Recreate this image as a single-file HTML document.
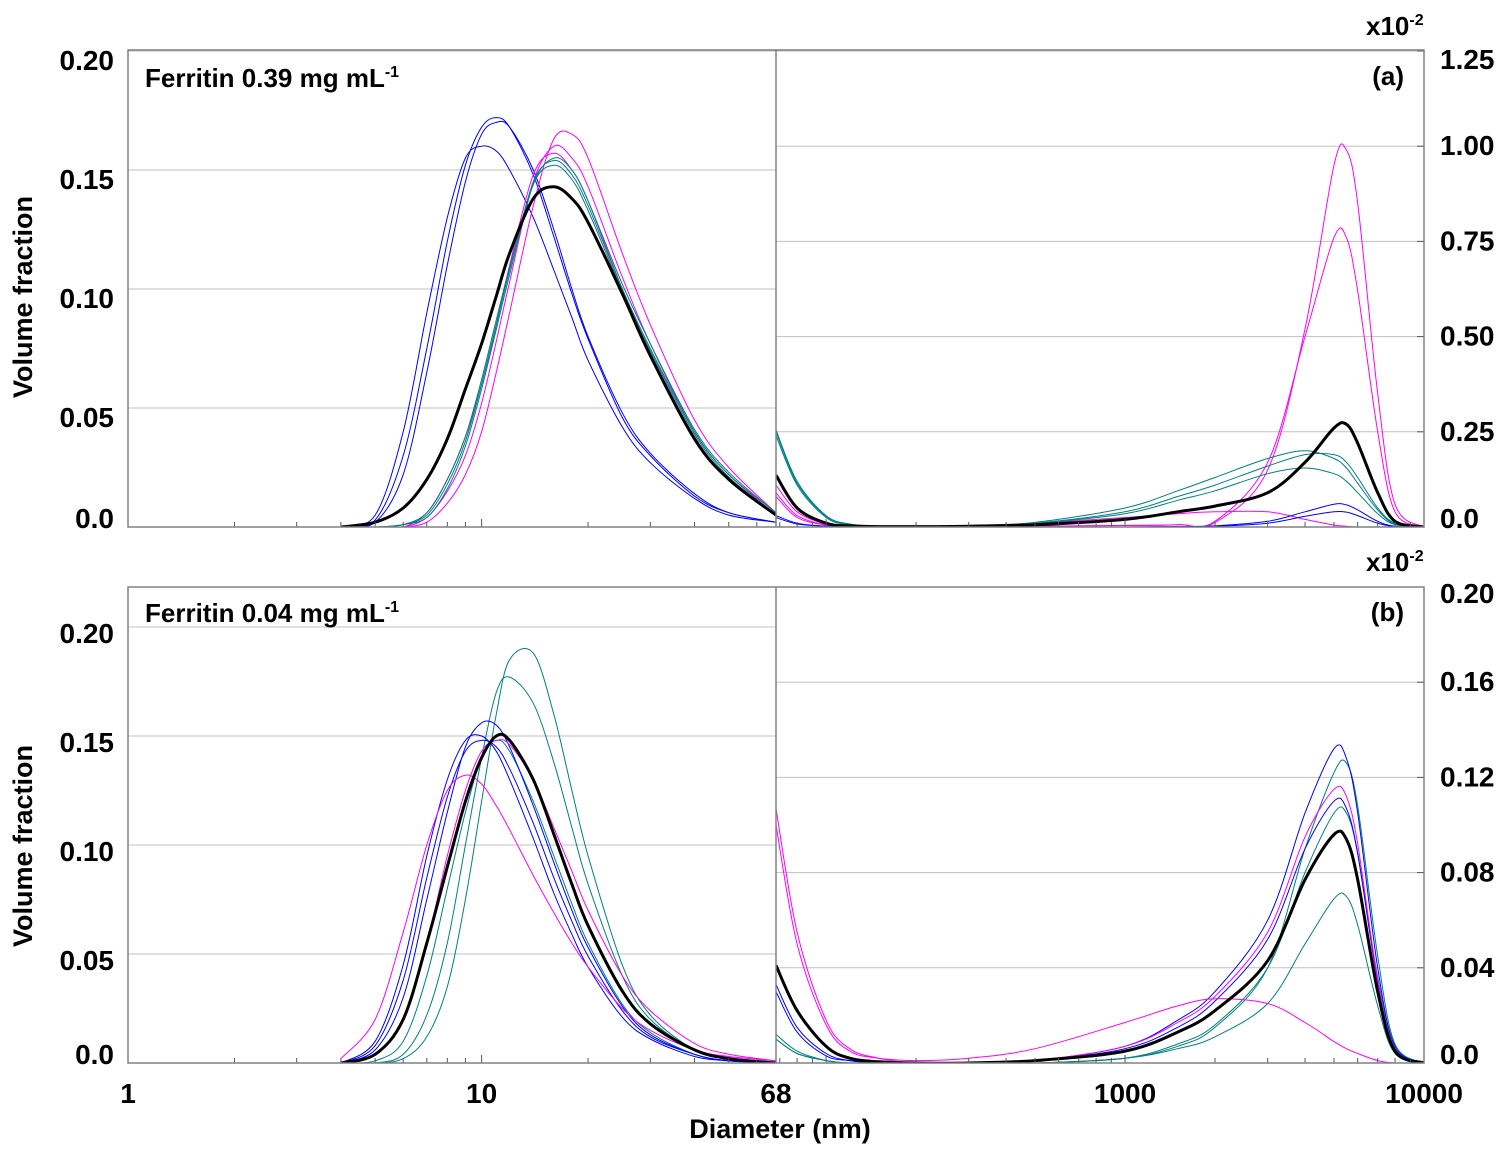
<!DOCTYPE html>
<html><head><meta charset="utf-8"><style>
html,body{margin:0;padding:0;background:#fff;}
svg{display:block;font-family:"Liberation Sans",Arial,sans-serif;font-weight:bold;}
</style></head><body>
<svg id="chart" width="1509" height="1156" viewBox="0 0 1509 1156" xmlns="http://www.w3.org/2000/svg">
<g id="grid"></g>
<g id="series"></g>
<g id="frames"></g>
<g id="labels"></g>
</svg>
<script>
// ---- data ----
const leftDiam = [4,5,6,7,8,9,10,11,12,14,16,18,20,25,30,40,50,68];
const rightDiam = [68,80,100,120,150,200,300,500,1000,1500,2000,3000,4000,5000,5500,6000,7000,8000,10000];

// panel (a) left
const aLeftBlue1 = [0,0.003,0.03,0.075,0.12,0.152,0.168,0.172,0.168,0.148,0.122,0.098,0.079,0.046,0.03,0.013,0.006,0.002];
const aLeftBlue2 = [0,0.005,0.04,0.09,0.13,0.155,0.16,0.158,0.15,0.13,0.108,0.088,0.07,0.042,0.027,0.012,0.005,0.002];
const aLeftBlue3 = [0,0.002,0.022,0.065,0.11,0.145,0.165,0.17,0.168,0.15,0.125,0.1,0.08,0.048,0.031,0.014,0.006,0.002];
const aLeftMag1 = [0,0,0,0.002,0.01,0.022,0.04,0.065,0.09,0.135,0.163,0.165,0.155,0.115,0.085,0.045,0.025,0.006];
const aLeftMag2 = [0,0,0,0.004,0.015,0.03,0.052,0.078,0.103,0.145,0.16,0.155,0.143,0.105,0.077,0.04,0.022,0.005];
const aLeftMag3 = [0,0,0,0.006,0.02,0.038,0.06,0.085,0.11,0.148,0.157,0.15,0.137,0.1,0.073,0.038,0.02,0.005];
const aLeftTeal1 = [0,0,0.001,0.005,0.018,0.036,0.06,0.085,0.108,0.145,0.154,0.148,0.135,0.1,0.075,0.04,0.022,0.006];
const aLeftTeal2 = [0,0,0.001,0.004,0.016,0.034,0.058,0.083,0.106,0.144,0.155,0.15,0.137,0.102,0.077,0.041,0.023,0.006];
const aLeftTeal3 = [0,0,0.001,0.006,0.02,0.038,0.062,0.087,0.109,0.144,0.152,0.146,0.133,0.099,0.074,0.039,0.021,0.005];
const aLeftBlack = [0,0.002,0.008,0.02,0.037,0.058,0.077,0.097,0.115,0.138,0.143,0.138,0.128,0.098,0.072,0.037,0.02,0.005];

// panel (a) right (x10^-2)
const aRightMag1 = [0.11,0.04,0.008,0.002,0.001,0.001,0.001,0.002,0.004,0.006,0.012,0.15,0.52,0.95,0.99,0.85,0.35,0.06,0];
const aRightMag2 = [0.09,0.03,0.006,0.002,0.001,0.001,0.001,0.002,0.004,0.006,0.015,0.17,0.5,0.76,0.76,0.62,0.25,0.04,0];
const aRightMag3 = [0.08,0.025,0.005,0.002,0.001,0.002,0.004,0.01,0.025,0.035,0.04,0.04,0.02,0.005,0.002,0,0,0,0];
const aRightTeal1 = [0.255,0.12,0.03,0.008,0.002,0.001,0.003,0.01,0.04,0.08,0.11,0.16,0.19,0.19,0.17,0.13,0.05,0.01,0];
const aRightTeal2 = [0.25,0.115,0.028,0.007,0.002,0.001,0.003,0.012,0.05,0.095,0.13,0.18,0.2,0.18,0.155,0.115,0.045,0.008,0];
const aRightTeal3 = [0.24,0.11,0.025,0.006,0.002,0.001,0.003,0.01,0.035,0.07,0.095,0.14,0.155,0.14,0.12,0.09,0.035,0.006,0];
const aRightBlue1 = [0.03,0.01,0.002,0,0,0,0,0,0,0.001,0.003,0.015,0.04,0.06,0.058,0.045,0.015,0.002,0];
const aRightBlue2 = [0.025,0.008,0.002,0,0,0,0,0,0,0.001,0.002,0.01,0.028,0.04,0.039,0.03,0.01,0.001,0];
const aRightBlack = [0.136,0.05,0.01,0.003,0.001,0.001,0.002,0.006,0.02,0.04,0.055,0.09,0.17,0.26,0.27,0.22,0.09,0.015,0];

// panel (b) left
const bLeftTeal1 = [0,0,0.002,0.012,0.035,0.075,0.12,0.16,0.185,0.188,0.16,0.125,0.095,0.045,0.022,0.006,0.002,0];
const bLeftTeal2 = [0,0,0.004,0.022,0.055,0.1,0.14,0.17,0.177,0.165,0.138,0.108,0.082,0.04,0.02,0.006,0.002,0];
const bLeftTeal3 = [0,0.001,0.01,0.04,0.08,0.115,0.14,0.148,0.143,0.12,0.095,0.073,0.055,0.027,0.014,0.004,0.001,0];
const bLeftBlue1 = [0,0.006,0.03,0.075,0.115,0.145,0.156,0.155,0.145,0.118,0.092,0.07,0.053,0.026,0.013,0.004,0.001,0];
const bLeftBlue2 = [0,0.01,0.045,0.095,0.13,0.148,0.15,0.143,0.13,0.103,0.078,0.059,0.044,0.021,0.011,0.003,0.001,0];
const bLeftBlue3 = [0,0.008,0.038,0.085,0.122,0.143,0.148,0.145,0.135,0.11,0.085,0.065,0.049,0.024,0.012,0.004,0.001,0];
const bLeftMag1 = [0.002,0.02,0.06,0.1,0.125,0.132,0.128,0.118,0.107,0.086,0.069,0.055,0.044,0.025,0.015,0.006,0.003,0.001];
const bLeftMag2 = [0,0.004,0.02,0.055,0.095,0.125,0.143,0.148,0.146,0.13,0.108,0.088,0.07,0.04,0.024,0.009,0.004,0.001];
const bLeftBlack = [0,0.004,0.02,0.055,0.09,0.12,0.14,0.15,0.148,0.13,0.105,0.082,0.063,0.033,0.018,0.006,0.002,0];

// panel (b) right (x10^-2)
const bRightTeal1 = [0.01,0.004,0.001,0,0,0,0,0,0.002,0.007,0.015,0.04,0.09,0.122,0.126,0.108,0.045,0.008,0];
const bRightTeal2 = [0.01,0.004,0.001,0,0,0,0,0,0.002,0.006,0.011,0.025,0.05,0.069,0.07,0.058,0.024,0.004,0];
const bRightTeal3 = [0.012,0.005,0.001,0,0,0,0,0,0.002,0.008,0.016,0.04,0.08,0.105,0.105,0.088,0.036,0.006,0];
const bRightBlue1 = [0.033,0.015,0.004,0.001,0,0,0,0.001,0.007,0.018,0.03,0.06,0.105,0.132,0.128,0.105,0.04,0.007,0];
const bRightBlue2 = [0.03,0.013,0.003,0.001,0,0,0,0.001,0.006,0.015,0.026,0.052,0.09,0.11,0.107,0.088,0.034,0.006,0];
const bRightMag1 = [0.107,0.055,0.018,0.006,0.002,0,0,0.001,0.007,0.017,0.028,0.055,0.095,0.115,0.112,0.092,0.035,0.006,0];
const bRightMag2 = [0.1,0.05,0.016,0.005,0.002,0.001,0.002,0.006,0.017,0.024,0.027,0.025,0.017,0.009,0.006,0.004,0.001,0,0];
const bRightBlack = [0.041,0.022,0.007,0.002,0.0005,0,0,0.001,0.005,0.013,0.022,0.043,0.077,0.096,0.094,0.077,0.03,0.005,0];

const leftTicksA = [0,0.05,0.10,0.15,0.20];
const leftTickLabelsA = ["0.0","0.05","0.10","0.15","0.20"];
const rightTicksA = [0,0.25,0.5,0.75,1.0,1.25];
const rightTickLabelsA = ["0.0","0.25","0.50","0.75","1.00","1.25"];
const leftTicksB = [0,0.05,0.10,0.15,0.20];
const leftTickLabelsB = ["0.0","0.05","0.10","0.15","0.20"];
const rightTicksB = [0,0.04,0.08,0.12,0.16,0.20];
const rightTickLabelsB = ["0.0","0.04","0.08","0.12","0.16","0.20"];
const xTickValues = [1,10,68,1000,10000];
const xTickLabels = ["1","10","68","1000","10000"];

// ---- geometry ----
const NS="http://www.w3.org/2000/svg";
const X0=128, XM=776, X1=1424;
const L68=Math.log10(68);
function xL(d){return X0+(XM-X0)*Math.log10(d)/L68;}
function xR(d){return XM+(X1-XM)*(Math.log10(d)-L68)/(4-L68);}
function xAny(d){return d<=68?xL(d):xR(d);}
const panels={
 a:{top:50,bot:527,yL:v=>527-v/0.2*476,yR:v=>527-v/1.25*476,lOff:19,rTopOff:18},
 b:{top:587,bot:1063,yL:v=>1063-v/0.2*436,yR:v=>1063-v/0.2*476,lOff:16,rTopOff:16}
};
function mk(tag,attrs,parent){const e=document.createElementNS(NS,tag);for(const k in attrs)e.setAttribute(k,attrs[k]);parent.appendChild(e);return e;}
const gGrid=document.getElementById('grid'),gSer=document.getElementById('series'),gFr=document.getElementById('frames'),gLab=document.getElementById('labels');

const defs=mk('defs',{},document.getElementById('chart'));
for(const p of ['a','b']){
 const P=panels[p];
 const c1=mk('clipPath',{id:'c'+p+'L'},defs);mk('rect',{x:X0,y:P.top,width:XM-X0,height:P.bot-P.top},c1);
 const c2=mk('clipPath',{id:'c'+p+'R'},defs);mk('rect',{x:XM,y:P.top,width:X1-XM,height:P.bot-P.top},c2);
}

function smoothPath(pts){
 let d='M'+pts[0][0].toFixed(1)+','+pts[0][1].toFixed(1);
 for(let i=0;i<pts.length-1;i++){
  const p0=pts[Math.max(0,i-1)],p1=pts[i],p2=pts[i+1],p3=pts[Math.min(pts.length-1,i+2)];
  const c1x=p1[0]+(p2[0]-p0[0])/6,c1y=p1[1]+(p2[1]-p0[1])/6;
  const c2x=p2[0]-(p3[0]-p1[0])/6,c2y=p2[1]-(p3[1]-p1[1])/6;
  d+=' C'+c1x.toFixed(1)+','+c1y.toFixed(1)+' '+c2x.toFixed(1)+','+c2y.toFixed(1)+' '+p2[0].toFixed(1)+','+p2[1].toFixed(1);
 }
 return d;
}
const COL={blue:'#0000ff',mag:'#ff00ff',teal:'#008080',black:'#000000'};
function drawSeries(name,xs,vals,xf,yf,color,clip,w){
 const pts=xs.map((d,i)=>[xf(d),Math.min(yf(0),yf(vals[i]))]);
 const el=mk('path',{d:smoothPath(pts),fill:'none',stroke:color,'stroke-width':w,'clip-path':'url(#'+clip+')'},gSer);
 
 
}
const seriesList=[
 ['a','L','a-left-blue-1',aLeftBlue1,'blue'],['a','L','a-left-blue-2',aLeftBlue2,'blue'],['a','L','a-left-blue-3',aLeftBlue3,'blue'],
 ['a','L','a-left-magenta-1',aLeftMag1,'mag'],['a','L','a-left-magenta-2',aLeftMag2,'mag'],['a','L','a-left-magenta-3',aLeftMag3,'mag'],
 ['a','L','a-left-teal-1',aLeftTeal1,'teal'],['a','L','a-left-teal-2',aLeftTeal2,'teal'],['a','L','a-left-teal-3',aLeftTeal3,'teal'],
 ['a','L','a-left-mean',aLeftBlack,'black'],
 ['a','R','a-right-magenta-1',aRightMag1,'mag'],['a','R','a-right-magenta-2',aRightMag2,'mag'],['a','R','a-right-magenta-3',aRightMag3,'mag'],
 ['a','R','a-right-teal-1',aRightTeal1,'teal'],['a','R','a-right-teal-2',aRightTeal2,'teal'],['a','R','a-right-teal-3',aRightTeal3,'teal'],
 ['a','R','a-right-blue-1',aRightBlue1,'blue'],['a','R','a-right-blue-2',aRightBlue2,'blue'],
 ['a','R','a-right-mean',aRightBlack,'black'],
 ['b','L','b-left-teal-1',bLeftTeal1,'teal'],['b','L','b-left-teal-2',bLeftTeal2,'teal'],['b','L','b-left-teal-3',bLeftTeal3,'teal'],
 ['b','L','b-left-blue-1',bLeftBlue1,'blue'],['b','L','b-left-blue-2',bLeftBlue2,'blue'],['b','L','b-left-blue-3',bLeftBlue3,'blue'],
 ['b','L','b-left-magenta-1',bLeftMag1,'mag'],['b','L','b-left-magenta-2',bLeftMag2,'mag'],
 ['b','L','b-left-mean',bLeftBlack,'black'],
 ['b','R','b-right-teal-1',bRightTeal1,'teal'],['b','R','b-right-teal-2',bRightTeal2,'teal'],['b','R','b-right-teal-3',bRightTeal3,'teal'],
 ['b','R','b-right-blue-1',bRightBlue1,'blue'],['b','R','b-right-blue-2',bRightBlue2,'blue'],
 ['b','R','b-right-magenta-1',bRightMag1,'mag'],['b','R','b-right-magenta-2',bRightMag2,'mag'],
 ['b','R','b-right-mean',bRightBlack,'black']
];
for(const s of seriesList){
 const P=panels[s[0]];
 const xs=s[1]==='L'?leftDiam:rightDiam, xf=s[1]==='L'?xL:xR, yf=s[1]==='L'?P.yL:P.yR;
 drawSeries(s[2],xs,s[3],xf,yf,COL[s[4]],'c'+s[0]+s[1],s[4]==='black'?3:1);
}

function text(str,x,y,size,anchor,name,extra){
 const t=mk('text',Object.assign({x:x,y:y,'font-size':size,'text-anchor':anchor||'start',fill:'#000'},extra||{}),gLab);
 t.textContent=str;
 
 
 return t;
}
const TS=28;
for(const p of ['a','b']){
 const P=panels[p];
 const lt=p==='a'?leftTicksA:leftTicksB, ll=p==='a'?leftTickLabelsA:leftTickLabelsB;
 const rt=p==='a'?rightTicksA:rightTicksB, rl=p==='a'?rightTickLabelsA:rightTickLabelsB;
 lt.forEach((v,i)=>{
  const y=P.yL(v);
  if(v>0){const g=mk('line',{x1:X0,x2:XM,y1:y,y2:y,stroke:'#c0c0c0','stroke-width':1},gGrid);
   }
  text(ll[i],114,v===0?y+1:y+P.lOff,TS,'end','y-tick-left-'+p);
 });
 rt.forEach((v,i)=>{
  const y=P.yR(v);
  if(v>0){const g=mk('line',{x1:XM,x2:X1,y1:y,y2:y,stroke:'#c0c0c0','stroke-width':1},gGrid);
   }
  mk('line',{x1:X1-7,x2:X1,y1:y,y2:y,stroke:'#555'},gFr);
  const off=(i===rt.length-1)?P.rTopOff:(v===0?1:9);
  text(rl[i],1440,y+off,TS,'start','y-tick-right-'+p);
 });
 for(let dec=1;dec<=1000;dec*=10){for(let m=1;m<10;m++){const d=dec*m; if(d<1||d>10000)continue;
  const x=xAny(d); if(x<X0||x>X1)continue; const len=m===1?8:5;
  mk('line',{x1:x,x2:x,y1:P.bot,y2:P.bot-len,stroke:'#555'},gFr);}}
 const fr=mk('rect',{x:X0,y:P.top,width:X1-X0,height:P.bot-P.top,fill:'none',stroke:'#808080','stroke-width':1.5},gFr);
 
 const dv=mk('line',{x1:XM,x2:XM,y1:P.top,y2:P.bot,stroke:'#808080','stroke-width':1.5},gFr);
 
 const t=text('x10',1366,p==='a'?35:571,26,'start','scale-label-'+p);
 const ts=mk('tspan',{dy:-10,'font-size':16},t);ts.textContent='-2';
 text(p==='a'?'(a)':'(b)',1404,p==='a'?85:621,26,'end','panel-label-'+p);
 const ft=text(p==='a'?'Ferritin 0.39 mg mL':'Ferritin 0.04 mg mL',145,p==='a'?87:622,26,'start','title-'+p);
 const sp=mk('tspan',{dy:-10,'font-size':16},ft);sp.textContent='-1';
 text('Volume fraction',32,p==='a'?297:846,27,'middle','y-axis-title-'+p,{transform:'rotate(-90 32 '+(p==='a'?297:846)+')'});
}
xTickValues.forEach((v,i)=>text(xTickLabels[i],xAny(v),1103,TS,'middle','x-tick-'+xTickLabels[i]));
text('Diameter (nm)',780,1138,27,'middle','x-axis-title');
</script>
</body></html>
